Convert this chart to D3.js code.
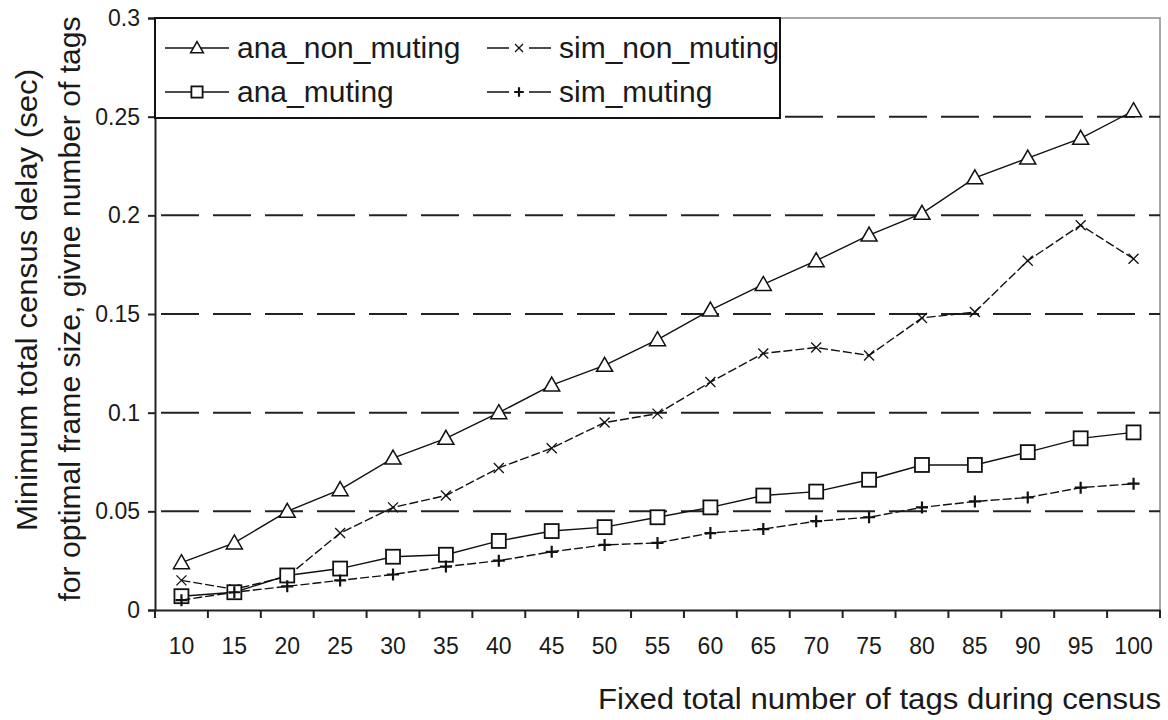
<!DOCTYPE html>
<html>
<head>
<meta charset="utf-8">
<script src="https://cdn.jsdelivr.net/npm/d3@7"></script>
<style>
  html, body { margin: 0; padding: 0; background: #fff; }
  svg { display: block; }
  text { font-family: Arial, "Liberation Sans", sans-serif; fill: #1a1a1a; }
</style>
</head>
<body>
<svg id="chart" width="1168" height="720"></svg>
<script>
const categories = [10, 15, 20, 25, 30, 35, 40, 45, 50, 55, 60, 65, 70, 75, 80, 85, 90, 95, 100];
const anaNonMuting = [0.024, 0.034, 0.050, 0.061, 0.077, 0.087, 0.100, 0.114, 0.124, 0.137, 0.152, 0.165, 0.177, 0.190, 0.201, 0.219, 0.229, 0.239, 0.253];
const simNonMuting = [0.015, 0.0105, 0.017, 0.039, 0.052, 0.058, 0.072, 0.082, 0.095, 0.0995, 0.1155, 0.130, 0.133, 0.129, 0.148, 0.151, 0.177, 0.195, 0.178];
const anaMuting = [0.007, 0.009, 0.0175, 0.021, 0.027, 0.028, 0.035, 0.040, 0.042, 0.047, 0.052, 0.058, 0.060, 0.066, 0.0735, 0.0735, 0.080, 0.087, 0.090];
const simMuting = [0.005, 0.009, 0.012, 0.015, 0.018, 0.022, 0.025, 0.0295, 0.033, 0.034, 0.039, 0.041, 0.045, 0.047, 0.052, 0.055, 0.057, 0.062, 0.064];
const yTicks = [0, 0.05, 0.1, 0.15, 0.2, 0.25, 0.3];
const seriesNames = ["ana_non_muting", "sim_non_muting", "ana_muting", "sim_muting"];
const xTitle = "Fixed total number of tags during census";
const yTitle1 = "Minimum total census delay (sec)";
const yTitle2 = "for optimal frame size, givne number of tags";

const series = [
  { name: seriesNames[0], values: anaNonMuting, marker: "triangle", dash: null },
  { name: seriesNames[1], values: simNonMuting, marker: "x", dash: "9,3" },
  { name: seriesNames[2], values: anaMuting, marker: "square", dash: null },
  { name: seriesNames[3], values: simMuting, marker: "plus", dash: "9,3" }
];

const L = 155, R = 1160, T = 18, B = 610;
const svg = d3.select("#chart");
const x = d3.scaleBand().domain(categories).range([L, R]);
const y = d3.scaleLinear().domain([0, 0.3]).range([B, T]);
const cx = c => x(c) + x.bandwidth() / 2;

// plot frame (top + right, gray)
svg.append("path").attr("d", `M${L},${T}H${R}V${B}`).attr("fill", "none").attr("stroke", "#8a8a8a").attr("stroke-width", 1.5);

// gridlines
svg.append("g").selectAll("line").data(yTicks.filter(t => t > 0 && t < 0.3)).join("line")
  .attr("x1", L).attr("x2", R).attr("y1", d => y(d)).attr("y2", d => y(d))
  .attr("stroke", "#222").attr("stroke-width", 2).attr("stroke-dasharray", "38,14").attr("stroke-dashoffset", -6);

// y axis
const yAxis = svg.append("g").attr("transform", `translate(${L},0)`)
  .call(d3.axisLeft(y).tickValues(yTicks).tickFormat(d => d === 0 ? "0" : String(+d.toFixed(2))).tickSize(7).tickPadding(8));
yAxis.select(".domain").attr("stroke", "#222").attr("stroke-width", 2);
yAxis.selectAll(".tick line").attr("stroke", "#222").attr("stroke-width", 2);
yAxis.selectAll(".tick text").attr("font-size", 23).attr("font-family", "Arial, 'Liberation Sans', sans-serif").attr("fill", "#1a1a1a");

// x axis
const xAxis = svg.append("g").attr("transform", `translate(0,${B})`)
  .call(d3.axisBottom(x).tickSize(0).tickPadding(28));
xAxis.select(".domain").attr("stroke", "#222").attr("stroke-width", 2);
xAxis.selectAll(".tick text").attr("font-size", 23).attr("font-family", "Arial, 'Liberation Sans', sans-serif").attr("fill", "#1a1a1a");
const bounds = categories.map(c => x(c)).concat([R]);
svg.append("g").selectAll("line").data(bounds).join("line")
  .attr("x1", d => d).attr("x2", d => d).attr("y1", B).attr("y2", B + 8)
  .attr("stroke", "#222").attr("stroke-width", 2);

// titles
svg.append("text").attr("x", 1161).attr("y", 709).attr("text-anchor", "end").attr("font-size", 30)
  .attr("textLength", 563).attr("lengthAdjust", "spacingAndGlyphs").text(xTitle);
svg.append("text").attr("transform", `translate(37,300) rotate(-90)`).attr("text-anchor", "middle").attr("font-size", 30)
  .attr("textLength", 462).attr("lengthAdjust", "spacingAndGlyphs").text(yTitle1);
svg.append("text").attr("transform", `translate(80,309) rotate(-90)`).attr("text-anchor", "middle").attr("font-size", 30)
  .attr("textLength", 585).attr("lengthAdjust", "spacingAndGlyphs").text(yTitle2);

// markers
function drawMarker(g, type, px, py, k = 1) {
  if (type === "triangle") {
    g.append("path").attr("d", `M${px},${py - 8 * k}L${px + 8 * k},${py + 6 * k}L${px - 8 * k},${py + 6 * k}Z`)
      .attr("fill", "#fff").attr("stroke", "#111").attr("stroke-width", 1.5);
  } else if (type === "square") {
    g.append("rect").attr("x", px - 7 * k).attr("y", py - 7 * k).attr("width", 14 * k).attr("height", 14 * k)
      .attr("fill", "#fff").attr("stroke", "#111").attr("stroke-width", 1.8);
  } else if (type === "x") {
    g.append("path").attr("d", `M${px - 5 * k},${py - 5 * k}L${px + 5 * k},${py + 5 * k}M${px - 5 * k},${py + 5 * k}L${px + 5 * k},${py - 5 * k}`)
      .attr("stroke", "#111").attr("stroke-width", 1.3);
  } else if (type === "plus") {
    g.append("path").attr("d", `M${px - 6 * k},${py}L${px + 6 * k},${py}M${px},${py - 6 * k}L${px},${py + 6 * k}`)
      .attr("stroke", "#111").attr("stroke-width", 2.2);
  }
}

const line = d3.line().x((d, i) => cx(categories[i])).y(d => y(d));
series.forEach(s => {
  const g = svg.append("g");
  g.append("path").attr("d", line(s.values)).attr("fill", "none").attr("stroke", "#111")
    .attr("stroke-width", 1.4).attr("stroke-dasharray", s.dash);
  s.values.forEach((v, i) => drawMarker(g, s.marker, cx(categories[i]), y(v)));
});

// legend
const lg = svg.append("g");
lg.append("rect").attr("x", L).attr("y", T).attr("width", 625).attr("height", 100)
  .attr("fill", "#fff").attr("stroke", "#111").attr("stroke-width", 2);
const legendPos = [[165, 48], [487, 48], [165, 92], [487, 92]];
series.forEach((s, i) => {
  const [lx, ly] = legendPos[i];
  lg.append("line").attr("x1", lx).attr("x2", lx + 64).attr("y1", ly).attr("y2", ly)
    .attr("stroke", "#111").attr("stroke-width", 1.6).attr("stroke-dasharray", s.dash ? "22,20,22" : null);
  drawMarker(lg, s.marker, lx + 32, ly, 0.8);
  lg.append("text").attr("x", lx + 72).attr("y", ly + 10).attr("font-size", 30).text(s.name);
});
</script>
</body>
</html>
